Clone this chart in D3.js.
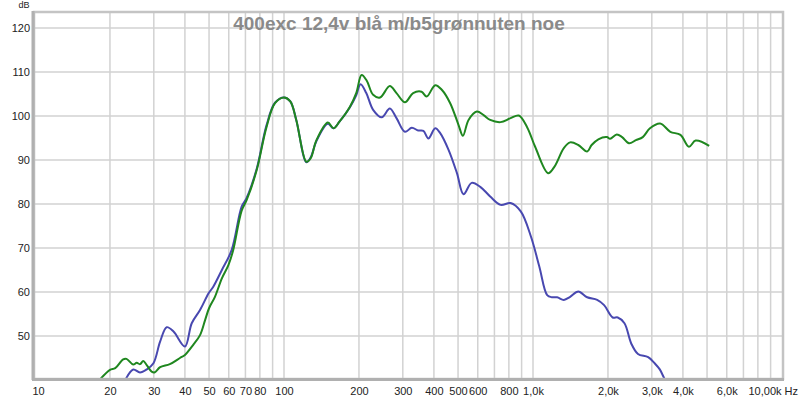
<!DOCTYPE html>
<html><head><meta charset="utf-8">
<script src="https://cdn.jsdelivr.net/npm/d3@7"></script>
<style>body{margin:0;background:#fff}svg{display:block}</style>
</head><body><svg id="c" width="800" height="397"></svg>
<script>
const title = "400exc 12,4v blå m/b5grønnuten noe";
const greenFreq = [18.3,20,21,22.6,23.3,24.8,25.6,26.4,27.2,28.1,29.4,30.3,31.8,34.8,38.2,40,43.2,46,48.2,50,52.8,56.3,59.8,62.5,67.6,70.7,77.7,85,92,100,106,112,123,128,135,150,158,167,184,195,205,215,228,243,266,283,306,330,357,374,405,431,465,502,523,551,595,633,673,741,813,877,948,1020,1150,1220,1330,1410,1520,1650,1720,1830,1980,2040,2170,2280,2430,2590,2760,2950,3240,3560,3910,4230,4500,5100];
const greenDb = [40.2,42.3,42.7,44.7,44.8,43.5,43.9,43.6,44.3,43.4,41.9,41.75,42.9,43.6,45,45.7,48,50.2,53.6,56.3,58.9,63.1,66.1,69.5,78.5,80.8,87.7,97.4,102.9,104.2,103.3,99.1,89.6,90.4,94.5,98.5,97.2,98.7,102.1,105.2,109.3,108,104.8,104.2,106.8,105.2,103.1,105.2,105.5,104.4,107,105.9,102.9,98,95.5,99.1,101,100.2,99.1,98.6,99.5,100.1,97.4,93,87,88.5,92.7,94,93.4,91.9,93.4,94.7,95.2,94.8,95.8,95.2,93.8,94.5,95.2,97.2,98.3,96.4,95.7,93,94.4,93.2];
const blueFreq = [23.2,24.8,26.4,28.1,29.9,31.8,33.8,36,40,42.6,46,49.8,52,56.3,61.6,67.6,70.7,77.7,85,92,100,106,112,123,128,135,150,158,167,184,195,203,214,228,247,266,283,306,326,346,363,380,405,424,458,495,526,567,614,673,741,813,893,981,1060,1140,1190,1250,1330,1410,1520,1650,1810,1930,2090,2190,2330,2480,2640,2900,3080,3230,3380,3500];
const blueDb = [40.3,42.4,41.7,42.4,43.8,48.7,52,51,47.6,52.9,55.9,59.7,61.2,65,69.5,79.4,81.3,88,97.8,103,104.2,103.3,99.1,89.5,90.6,94.3,98.2,97.2,98.7,102,104.7,107.2,105.2,101.4,99.7,101.7,99.5,96.4,97.3,96.7,96.6,94.9,97.2,96.1,92.3,87,82.2,84.8,83.9,81.7,79.8,80.2,78.3,72.6,65.8,59.3,58.8,58.8,58.2,58.9,60.1,58.8,58.2,57,54.2,54.2,52.9,48.3,45.9,45.2,43.8,42.4,40.2,39];
const xGridVals = [20,30,40,50,60,70,80,90,100,200,300,400,500,600,700,800,900,1000,2000,3000,4000,5000,6000,7000,8000,9000];
const xTickVals = [10,20,30,40,50,60,70,80,100,200,300,400,500,600,800,1000,2000,3000,4000,6000];
const xTickLabels = ["10","20","30","40","50","60","70","80","100","200","300","400","500","600","800","1,0k","2,0k","3,0k","4,0k","6,0k"];
const yTickVals = [50,60,70,80,90,100,110,120];

const svg = d3.select("#c");
const L = 35, R = 782, T = 13, B = 378;
const x = d3.scaleLog().domain([10,10000]).range([L,R]);
const y = d3.scaleLinear().domain([40.45,123.4]).range([B,T]);

// gridlines
svg.append("g").selectAll("line").data(xGridVals).join("line")
  .attr("x1",d=>x(d)).attr("x2",d=>x(d)).attr("y1",T).attr("y2",B)
  .attr("stroke","#d2d2d2").attr("stroke-width",1.5);
svg.append("g").selectAll("line").data(yTickVals).join("line")
  .attr("x1",L).attr("x2",R).attr("y1",d=>y(d)).attr("y2",d=>y(d))
  .attr("stroke","#d2d2d2").attr("stroke-width",1.5);

// title
svg.append("text").attr("x",399).attr("y",30).attr("text-anchor","middle")
  .attr("font-family","Liberation Sans, Arial, sans-serif").attr("font-weight","bold")
  .attr("font-size",19).attr("fill","#8a8a8a").text(title);

// curves
svg.append("clipPath").attr("id","clip").append("rect")
  .attr("x",L).attr("y",T).attr("width",R-L).attr("height",B-T);
const line = d3.line().x(d=>x(d[0])).y(d=>y(d[1])).curve(d3.curveCatmullRom.alpha(0.5));
const gp = svg.append("g").attr("clip-path","url(#clip)");
gp.append("path").datum(blueFreq.map((f,i)=>[f,blueDb[i]]))
  .attr("d",line).attr("fill","none").attr("stroke","#4848b0").attr("stroke-width",2);
gp.append("path").datum(greenFreq.map((f,i)=>[f,greenDb[i]]))
  .attr("d",line).attr("fill","none").attr("stroke","#1f871f").attr("stroke-width",2);

// frame
svg.append("rect").attr("x",L-1).attr("y",T-1).attr("width",R-L+2).attr("height",B-T+2)
  .attr("fill","none").attr("stroke","#c4c4c4").attr("stroke-width",2.5);
svg.append("line").attr("x1",L-2).attr("x2",L-2).attr("y1",T-2).attr("y2",B+2)
  .attr("stroke","#b0b0b0").attr("stroke-width",3);
svg.append("line").attr("x1",L-3).attr("x2",R+2).attr("y1",B+1.5).attr("y2",B+1.5)
  .attr("stroke","#b0b0b0").attr("stroke-width",3);

// axes
const xAxis = d3.axisBottom(x).tickValues(xTickVals).tickFormat((d,i)=>xTickLabels[i]).tickSize(0).tickPadding(0);
const gx = svg.append("g").attr("transform",`translate(0,${B})`).call(xAxis);
gx.select(".domain").remove();
gx.selectAll("text").attr("dy",0).attr("y",17).attr("fill","#222")
  .attr("font-family","Liberation Sans, Arial, sans-serif").attr("font-size",11);
gx.selectAll(".tick").filter(d=>d===10).select("text").attr("x",3);
svg.append("text").attr("x",798).attr("y",B+17).attr("text-anchor","end")
  .attr("font-family","Liberation Sans, Arial, sans-serif").attr("font-size",11).attr("fill","#222")
  .text("10,00k Hz");

const yAxis = d3.axisLeft(y).tickValues(yTickVals).tickFormat(d3.format("d")).tickSize(0).tickPadding(0);
const gy = svg.append("g").attr("transform",`translate(30,0)`).call(yAxis);
gy.select(".domain").remove();
gy.selectAll("text").attr("fill","#222").attr("font-family","Liberation Sans, Arial, sans-serif").attr("font-size",11);
svg.append("text").attr("x",24).attr("y",8).attr("text-anchor","middle")
  .attr("font-family","Liberation Sans, Arial, sans-serif").attr("font-size",9).attr("fill","#222").text("dB");
</script></body></html>
